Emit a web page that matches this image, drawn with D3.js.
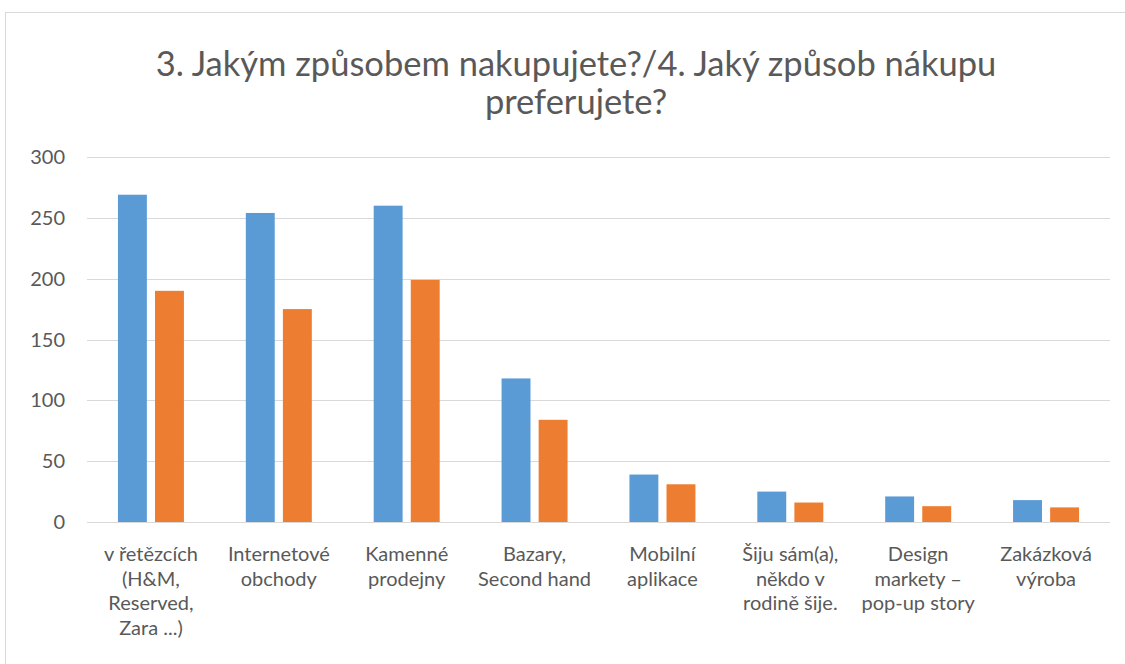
<!DOCTYPE html>
<html>
<head>
<meta charset="utf-8">
<script src="https://cdn.jsdelivr.net/npm/d3@7"></script>
<style>
  body { margin: 0; background: #fff; }
  text { font-family: Lato, "Open Sans", sans-serif; fill: #595959; }
</style>
</head>
<body>
<div id="chart"></div>
<script>
var titleLines = ['3. Jakým způsobem nakupujete?/4. Jaký způsob nákupu', 'preferujete?'];

var categories = [
  ['v řetězcích', '(H&M,', 'Reserved,', 'Zara ...)'],
  ['Internetové', 'obchody'],
  ['Kamenné', 'prodejny'],
  ['Bazary,', 'Second hand'],
  ['Mobilní', 'aplikace'],
  ['Šiju sám(a),', 'někdo v', 'rodině šije.'],
  ['Design', 'markety –', 'pop-up story'],
  ['Zakázková', 'výroba']
];

var howYouBuy = [269, 254, 260, 118, 39, 25, 21, 18];
var preferred = [190, 175, 199, 84, 31, 16, 13, 12];

var yTicks = [0, 50, 100, 150, 200, 250, 300];

var colors = ['#5B9BD5', '#ED7D31'];

var W = 1125, H = 664;
var svg = d3.select('#chart').append('svg')
  .attr('width', W)
  .attr('height', H);

// chart area border
svg.append('rect')
  .attr('x', 5.5).attr('y', 12.5)
  .attr('width', W + 10).attr('height', H + 10)
  .attr('fill', 'none')
  .attr('stroke', '#d9d9d9')
  .attr('stroke-width', 1);

// title
var title = svg.append('g');
titleLines.forEach(function(line, i) {
  title.append('text')
    .attr('x', 576)
    .attr('y', 76 + i * 38)
    .attr('text-anchor', 'middle')
    .style('font-size', '34.5px')
    .text(line);
});

var margin = { top: 157, left: 87, right: 15, bottom: 142 };
var width = W - margin.left - margin.right;
var height = H - margin.top - margin.bottom;

var g = svg.append('g')
  .attr('transform', 'translate(' + margin.left + ',' + margin.top + ')');

var x = d3.scaleBand()
  .domain(d3.range(categories.length))
  .range([0, width]);

var x1 = d3.scaleBand()
  .domain([0, 1])
  .range([x.bandwidth() / 2 - 33, x.bandwidth() / 2 + 33])
  .paddingInner(0.22);

var y = d3.scaleLinear()
  .domain([0, 300])
  .range([height, 0]);

// gridlines
g.append('g')
  .selectAll('line')
  .data(yTicks)
  .enter().append('line')
    .attr('x1', 0)
    .attr('x2', width)
    .attr('y1', function(d) { return Math.round(y(d)) + 0.5; })
    .attr('y2', function(d) { return Math.round(y(d)) + 0.5; })
    .attr('stroke', '#d9d9d9')
    .attr('stroke-width', 1);

// y labels
g.append('g')
  .selectAll('text')
  .data(yTicks)
  .enter().append('text')
    .attr('x', -22)
    .attr('y', function(d) { return y(d); })
    .attr('dy', '0.35em')
    .attr('text-anchor', 'end')
    .style('font-size', '20px')
    .text(function(d) { return d; });

// bars
var series = [howYouBuy, preferred];
series.forEach(function(vals, s) {
  g.append('g')
    .selectAll('rect')
    .data(vals)
    .enter().append('rect')
      .attr('x', function(d, i) { return x(i) + x1(s); })
      .attr('y', function(d) { return y(d); })
      .attr('width', x1.bandwidth())
      .attr('height', function(d) { return height - y(d); })
      .attr('fill', colors[s]);
});

// category labels
var labels = g.append('g')
  .selectAll('text')
  .data(categories)
  .enter().append('text')
    .attr('text-anchor', 'middle')
    .attr('transform', function(d, i) {
      return 'translate(' + (x(i) + x.bandwidth() / 2) + ',' + (height + 39) + ')';
    })
    .style('font-size', '20px');

labels.selectAll('tspan')
  .data(function(d) { return d; })
  .enter().append('tspan')
    .attr('x', 0)
    .attr('y', function(d, i) { return i * 24.5; })
    .text(function(d) { return d; });
</script>
</body>
</html>
